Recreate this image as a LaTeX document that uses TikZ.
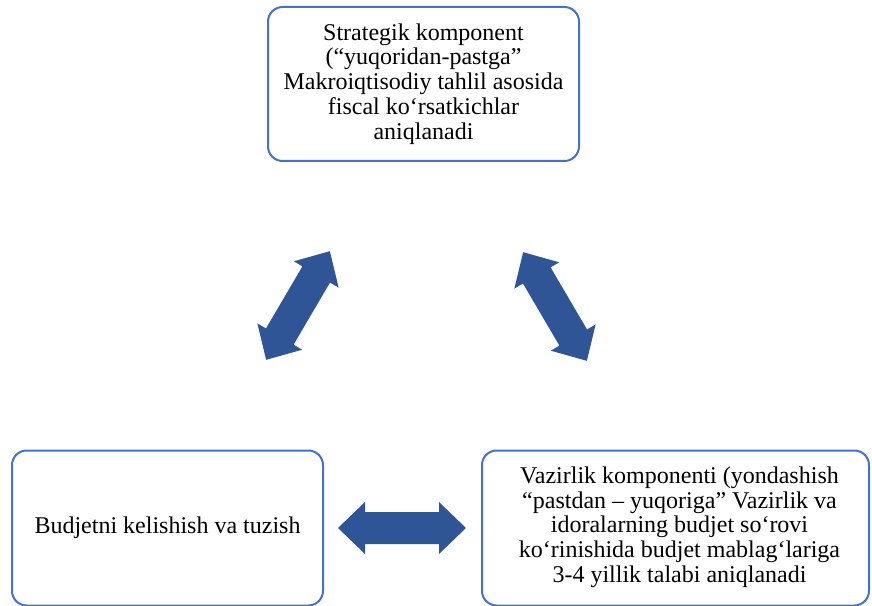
\documentclass[tikz,border=0pt]{standalone}
\usepackage{fontspec}
\setmainfont{Liberation Serif}

\definecolor{chegara}{RGB}{68,114,196}
\definecolor{strelkarang}{RGB}{47,85,151}

\tikzset{
  boks/.style={draw=chegara, line width=1.5pt, rounded corners=11pt, fill=white,
    align=center, inner sep=0pt, font=\fontsize{18pt}{18.6pt}\selectfont},
  strelka/.style={fill=strelkarang, draw=none},
}

% double block arrow: centre, angle, length
\newcommand{\ikkistrelka}[3]{%
  \begin{scope}[shift={(#1)},rotate=#2]
    \fill[strelka] (-#3/2,0) -- ++(27,26) -- ++(0,-10) -- (#3/2-27,16) -- ++(0,10)
      -- (#3/2,0) -- ++(-27,-26) -- ++(0,10) -- (-#3/2+27,-16) -- ++(0,-10) -- cycle;
  \end{scope}}

\begin{document}
\begin{tikzpicture}[x=0.75pt,y=0.75pt,yscale=-1,xscale=1]
\useasboundingbox (0,0) rectangle (872,606);

% Text Node
\node[boks, minimum width=233.25pt, minimum height=115.5pt] (strategik) at (423.5,84)
  {Strategik komponent\\(“yuqoridan-pastga”\\Makroiqtisodiy tahlil asosida\\fiscal ko‘rsatkichlar\\aniqlanadi};
% Text Node
\node[boks, minimum width=233.25pt, minimum height=116.25pt] (budjet) at (167.5,528)
  {Budjetni kelishish va tuzish};
% Text Node
\node[boks, minimum width=290.25pt, minimum height=116.25pt] (vazirlik) at (675.5,528)
  {\hspace*{6pt}\begin{tabular}{@{}c@{}}Vazirlik komponenti (yondashish\\“pastdan – yuqoriga” Vazirlik va\\idoralarning budjet so‘rovi\\ko‘rinishida budjet mablag‘lariga\\3-4 yillik talabi aniqlanadi\end{tabular}};

%Shape: Left-Right Arrow
\ikkistrelka{298,305.5}{-59.6}{126}
%Shape: Left-Right Arrow
\ikkistrelka{555,306.5}{59.6}{126}
%Shape: Left-Right Arrow
\ikkistrelka{402,528}{0}{128}

\end{tikzpicture}
\end{document}
